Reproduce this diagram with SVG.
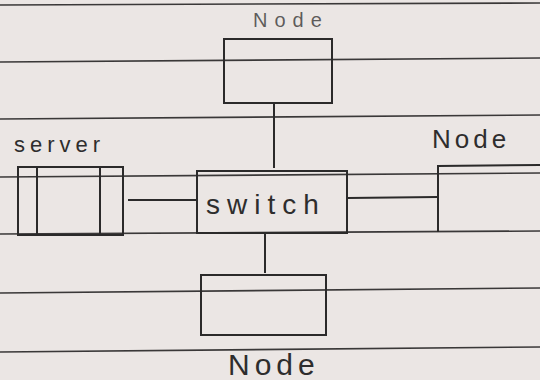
<svg xmlns="http://www.w3.org/2000/svg" width="540" height="380" viewBox="0 0 540 380">
<style>
.rule{stroke:#3a3838;stroke-width:1.6;fill:none}
.box{stroke:#2b2a2a;stroke-width:2;fill:none}
.wire{stroke:#2b2a2a;stroke-width:2;fill:none}
.lbl{font-family:"Liberation Sans",Arial,sans-serif;fill:#2e2d2d}
</style>
<rect width="540" height="380" fill="#ebe6e4"/>
<g id="paper-lines">
<line class="rule" x1="0" y1="5" x2="540" y2="3"/>
<line class="rule" x1="0" y1="62" x2="540" y2="58"/>
<line class="rule" x1="0" y1="119" x2="540" y2="115"/>
<line class="rule" x1="0" y1="177" x2="540" y2="173"/>
<line class="rule" x1="0" y1="234" x2="540" y2="231"/>
<line class="rule" x1="0" y1="293" x2="540" y2="288"/>
<line class="rule" x1="0" y1="352" x2="540" y2="347"/>
</g>
<g id="connectors">
<line class="wire" x1="274" y1="104" x2="274" y2="168"/>
<line class="wire" x1="265" y1="233" x2="265" y2="273"/>
<line class="wire" x1="128" y1="200" x2="197" y2="200"/>
<line class="wire" x1="348" y1="198" x2="437" y2="197"/>
</g>
<g id="node-top">
<rect class="box" x="224" y="39" width="108" height="64"/>
<text class="lbl" x="253" y="27" font-size="20" letter-spacing="7" fill-opacity="0.75">Node</text>
</g>
<g id="server">
<rect class="box" x="18" y="167" width="105" height="68"/>
<line class="box" x1="37" y1="167" x2="37" y2="235"/>
<line class="box" x1="100" y1="167" x2="100" y2="235"/>
<text class="lbl" x="14" y="152" font-size="22" letter-spacing="5">server</text>
</g>
<g id="switch">
<rect class="box" x="197" y="171" width="150" height="62"/>
<text class="lbl" x="206" y="214" font-size="28" letter-spacing="7">switch</text>
</g>
<g id="node-right">
<path class="box" d="M542 165 L438 166 L438 232"/>
<text class="lbl" x="432" y="148" font-size="26" letter-spacing="4">Node</text>
</g>
<g id="node-bottom">
<rect class="box" x="201" y="275" width="125" height="60"/>
<text class="lbl" x="228" y="375" font-size="30" letter-spacing="5">Node</text>
</g>
</svg>
